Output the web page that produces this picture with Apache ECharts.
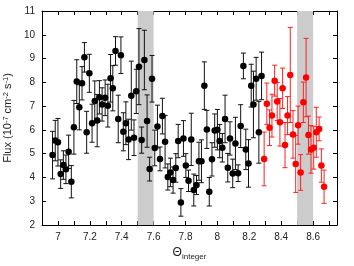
<!DOCTYPE html>
<html>
<head>
<meta charset="utf-8">
<script src="https://cdn.jsdelivr.net/npm/echarts@6/dist/echarts.min.js"></script>
<style>html,body{margin:0;padding:0;background:#fff}#c{width:354px;height:266px}</style>
</head>
<body>
<div id="c"></div>
<script>
const xBlack = [6.966,6.983,7.000,7.017,7.034,7.050,7.067,7.084,7.100,7.118,7.134,7.151,7.166,7.180,7.197,7.214,7.231,7.246,7.260,7.277,7.296,7.313,7.330,7.344,7.361,7.378,7.395,7.410,7.426,7.443,7.460,7.477,7.491,7.508,7.525,7.542,7.559,7.575,7.590,7.607,7.624,7.640,7.655,7.672,7.689,7.705,7.722,7.739,7.754,7.771,7.787,7.802,7.819,7.836,7.852,7.869,7.884,7.900,7.918,7.934,7.949,7.966,7.983,8.000,8.014,8.031,8.048,8.065,8.079,8.096,8.113,8.130,8.146,8.163,8.178,8.195,8.212,8.226,8.243,8.260,8.277];
const fluxBlack = [4.94,5.55,5.48,4.14,4.52,4.34,5.08,3.82,6.11,8.03,6.95,7.96,9.05,5.90,8.38,6.28,7.21,6.39,7.37,7.07,7.35,7.02,8.17,7.75,9.32,6.46,9.14,5.92,6.28,5.60,7.44,5.67,7.62,8.66,5.57,8.94,6.37,4.35,8.15,5.24,6.14,4.78,6.58,5.50,4.02,4.21,3.89,4.40,5.53,2.95,5.64,4.50,3.86,5.60,3.47,3.68,4.68,4.68,7.86,6.02,3.40,4.76,5.97,6.01,5.53,5.25,6.46,4.41,5.64,4.17,5.43,4.18,6.16,8.69,5.18,4.59,7.86,7.07,8.15,5.90,8.27];
const errBlack = [1.0,0.85,1.0,0.6,0.6,0.6,0.7,0.68,1.13,0.92,0.95,0.7,0.62,0.88,0.8,0.8,0.85,1.1,0.7,0.7,0.75,0.9,1.0,0.95,0.6,1.0,0.77,0.8,0.9,0.85,1.45,0.75,0.93,1.6,0.55,1.25,1.1,0.5,0.98,0.75,0.9,0.5,0.75,1.1,0.55,0.6,0.55,0.6,0.7,0.58,0.75,0.5,0.45,1.1,0.67,0.4,0.8,0.9,1.0,0.8,0.6,0.7,0.7,0.85,0.7,0.6,1.0,0.6,0.7,0.6,1.1,0.35,0.9,0.54,0.85,1.0,0.9,1.4,0.9,1.3,1.0];
const xRed = [8.293,8.310,8.327,8.342,8.359,8.375,8.392,8.409,8.424,8.440,8.457,8.474,8.491,8.506,8.522,8.539,8.556,8.571,8.587,8.604,8.620,8.638,8.652,8.669];
const fluxRed = [4.78,7.10,6.09,6.60,8.07,7.19,6.32,7.75,5.36,6.60,8.31,5.81,4.57,6.20,4.21,7.16,8.20,5.78,5.18,5.25,5.90,6.04,4.50,3.61];
const errRed = [1.13,0.87,0.75,0.9,0.65,0.8,1.0,0.85,0.95,0.8,2.0,1.0,1.2,0.8,0.75,0.85,1.65,0.8,1.0,0.9,1.05,0.5,0.7,0.7];
const bands = [[7.5, 7.6], [8.5, 8.6]];
const yTicks = [2,3,4,5,6,7,8,9,10,11];

const font = 'Liberation Sans, Arial, Helvetica, sans-serif';
const chart = echarts.init(document.getElementById('c'), null, {renderer: 'canvas'});

function errData(xs, ys, es) {
  return xs.map((x, i) => [x, ys[i] - es[i], ys[i] + es[i]]);
}
function errSeries(xs, ys, es, color) {
  return {
    type: 'custom',
    data: errData(xs, ys, es),
    z: 3,
    silent: true,
    renderItem: function (params, api) {
      const lo = api.coord([api.value(0), api.value(1)]);
      const hi = api.coord([api.value(0), api.value(2)]);
      const w = 2.5;
      const style = {stroke: color, lineWidth: 1, fill: null};
      return {
        type: 'group',
        children: [
          {type: 'line', shape: {x1: lo[0], y1: lo[1], x2: hi[0], y2: hi[1]}, style: style},
          {type: 'line', shape: {x1: lo[0] - w, y1: lo[1], x2: lo[0] + w, y2: lo[1]}, style: style},
          {type: 'line', shape: {x1: hi[0] - w, y1: hi[1], x2: hi[0] + w, y2: hi[1]}, style: style}
        ]
      };
    }
  };
}

const xLabelFmt = function (v) {
  const r = Math.round(v * 10);
  if (r % 2 !== 0 || v < 6.95 || v > 8.7) return '';
  return String(+(r / 10).toFixed(1));
};

const axisCommon = {
  axisLine: {show: true, onZero: false, lineStyle: {color: '#000', width: 1}},
  axisTick: {show: true, inside: true, length: 4, lineStyle: {color: '#000', width: 1}},
  splitLine: {show: false}
};

chart.setOption({
  animation: false,
  backgroundColor: '#fff',
  grid: {left: 42, right: 17, top: 11, bottom: 41, containLabel: false, outerBoundsMode: 'none'},
  xAxis: [
    Object.assign({
      type: 'value', position: 'bottom', min: 6.9, max: 8.75, interval: 0.1,
      axisLabel: {formatter: xLabelFmt, color: '#222', fontFamily: font, fontSize: 10, margin: 7},
      name: '{t|Θ}{s|integer}', nameLocation: 'middle', nameGap: 17,
      nameTextStyle: {
        color: '#222', fontFamily: font,
        rich: {
          t: {fontSize: 12, fontFamily: font, color: '#222', verticalAlign: 'top'},
          s: {fontSize: 8, fontFamily: font, color: '#222', verticalAlign: 'bottom', padding: [6, 0, 0, 0]}
        }
      }
    }, axisCommon),
    Object.assign({
      type: 'value', position: 'top', min: 6.9, max: 8.75, interval: 0.1,
      axisLabel: {show: false}
    }, axisCommon)
  ],
  yAxis: [
    Object.assign({
      type: 'value', position: 'left', min: yTicks[0], max: yTicks[yTicks.length - 1], interval: 1,
      axisLabel: {color: '#222', fontFamily: font, fontSize: 10, margin: 7},
      name: '{t|Flux (10}{p|-7}{t| cm}{p|-2}{t| s}{p|-1}{t|)}', nameLocation: 'middle', nameGap: 26, nameRotate: 90,
      nameTextStyle: {
        color: '#222', fontFamily: font,
        rich: {
          t: {fontSize: 11, fontFamily: font, color: '#222'},
          p: {fontSize: 7.5, fontFamily: font, color: '#222', verticalAlign: 'top', padding: [0, 0, 4, 0]}
        }
      }
    }, axisCommon),
    Object.assign({
      type: 'value', position: 'right', min: yTicks[0], max: yTicks[yTicks.length - 1], interval: 1,
      axisLabel: {show: false}
    }, axisCommon)
  ],
  series: [
    {
      type: 'scatter', data: [], z: 1, silent: true,
      markArea: {
        silent: true,
        itemStyle: {color: '#cccccc', opacity: 1},
        data: bands.map(b => [{xAxis: b[0]}, {xAxis: b[1]}])
      }
    },
    errSeries(xBlack, fluxBlack, errBlack, '#111'),
    errSeries(xRed, fluxRed, errRed, '#ff2020'),
    {
      type: 'scatter', z: 4, silent: true, symbol: 'circle', symbolSize: 6.5,
      itemStyle: {color: '#000', opacity: 1},
      data: xBlack.map((x, i) => [x, fluxBlack[i]])
    },
    {
      type: 'scatter', z: 4, silent: true, symbol: 'circle', symbolSize: 6.5,
      itemStyle: {color: '#ff0000', opacity: 1},
      data: xRed.map((x, i) => [x, fluxRed[i]])
    }
  ]
});
</script>
</body>
</html>
